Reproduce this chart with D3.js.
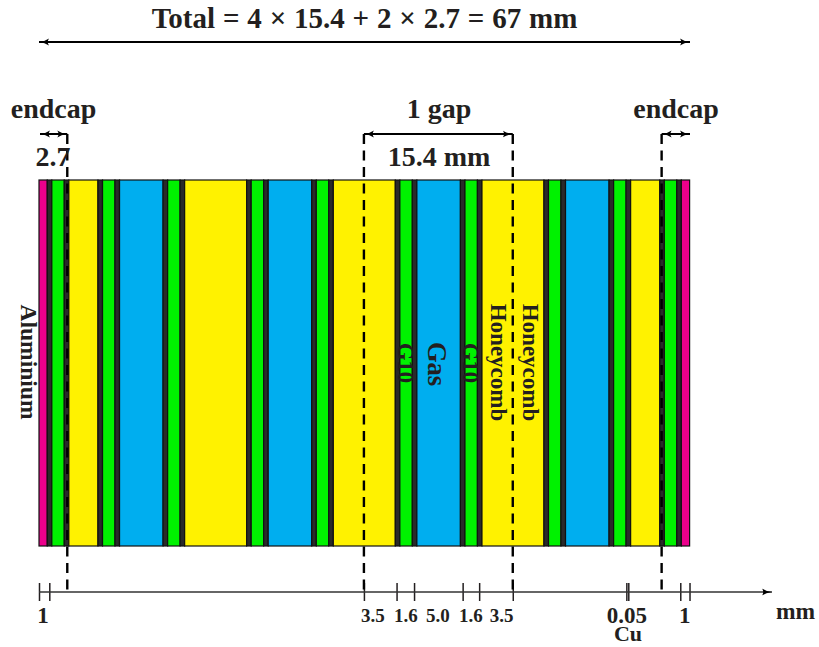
<!DOCTYPE html>
<html>
<head>
<meta charset="utf-8">
<script src="https://cdn.jsdelivr.net/npm/d3@7"></script>
<style>
  html, body { margin: 0; padding: 0; background: #fff; }
  svg { display: block; }
  text { font-family: "Liberation Serif", serif; font-weight: bold; fill: #231f20; }
</style>
</head>
<body>
<div id="chart"></div>
<script>
// layer stack, left to right, drawn thickness in mm

var layerMaterials = [
  "Al", "Cu", "G10", "Cu",
  "Honeycomb", "Cu", "G10", "Cu", "Gas", "Cu", "G10", "Cu",
  "Honeycomb", "Cu", "G10", "Cu", "Gas", "Cu", "G10", "Cu",
  "Honeycomb", "Cu", "G10", "Cu", "Gas", "Cu", "G10", "Cu",
  "Honeycomb", "Cu", "G10", "Cu", "Gas", "Cu", "G10", "Cu",
  "Honeycomb", "Cu", "G10", "Cu", "Al"
];
var layerThickness = [
  0.85, 0.47, 1.28, 0.47,
  3.0, 0.47, 1.28, 0.47, 4.48, 0.47, 1.28, 0.47,
  6.38, 0.47, 1.28, 0.47, 4.48, 0.47, 1.28, 0.47,
  6.38, 0.47, 1.28, 0.47, 4.48, 0.47, 1.28, 0.47,
  6.38, 0.47, 1.28, 0.47, 4.48, 0.47, 1.28, 0.47,
  3.0, 0.47, 1.28, 0.47, 0.85
];

var materialNames = ["Al", "Cu", "G10", "Honeycomb", "Gas"];
var materialColors = ["#ec008c", "#2a2a2a", "#00f200", "#fff200", "#00aeef"];

// positions along the bottom ruler and the dashed gap edges, in mm

var rulerTicks = [0, 1.06, 33.44, 36.8, 38.6, 43.6, 45.3, 48.76, 60.45, 60.65, 66, 66.95];
var gapEdges = [2.91, 33.44, 48.76, 64.08];
var totalThickness = 67;

// labels under the ruler: text, centre in mm

var rulerLabels = ["1", "3.5", "1.6", "5.0", "1.6", "3.5", "0.05", "1"];
var rulerLabelPos = [0.4, 34.37, 37.75, 41.05, 44.45, 47.6, 60.5, 66.45];

var width = 819,
    height = 647,
    barTop = 180,
    barBottom = 546,
    rulerY = 592,
    arrowY = 134;

var x = d3.scaleLinear()
  .domain([0, totalThickness])
  .range([39, 690]);

var color = d3.scaleOrdinal()
  .domain(materialNames)
  .range(materialColors);

var svg = d3.select("#chart").append("svg")
  .attr("width", width)
  .attr("height", height);

// arrow head

svg.append("defs").append("marker")
  .attr("id", "head")
  .attr("viewBox", "0 0 10 8")
  .attr("refX", 10)
  .attr("refY", 4)
  .attr("markerUnits", "userSpaceOnUse")
  .attr("markerWidth", 10)
  .attr("markerHeight", 8)
  .attr("orient", "auto-start-reverse")
  .append("path")
    .attr("d", "M0,0.5 Q4,3.4 10,4 Q4,4.6 0,7.5 Q2.5,4 0,0.5Z")
    .attr("fill", "#000");

// stacked layers

var layers = [], pos = 0;
layerThickness.forEach(function(t, i) {
  layers.push({ material: layerMaterials[i], start: pos, end: pos + t });
  pos += t;
});

svg.selectAll(".layer")
  .data(layers)
  .enter()
    .append("rect")
      .attr("class", "layer")
      .attr("x", function(d) { return x(d.start); })
      .attr("y", barTop)
      .attr("width", function(d) { return x(d.end) - x(d.start); })
      .attr("height", barBottom - barTop)
      .attr("fill", function(d) { return color(d.material); })
      .attr("stroke", "#111")
      .attr("stroke-width", 1.2);

// bottom ruler

var ruler = svg.append("g")
  .attr("transform", "translate(0," + rulerY + ")")
  .call(d3.axisBottom(x).tickValues(rulerTicks).tickFormat("").tickSize(9));

ruler.select(".domain").remove();
ruler.selectAll(".tick line")
  .attr("y1", -9)
  .attr("stroke", "#231f20")
  .attr("stroke-width", 1.5);

svg.append("line")
  .attr("x1", x(0))
  .attr("x2", 772)
  .attr("y1", rulerY)
  .attr("y2", rulerY)
  .attr("stroke", "#333")
  .attr("stroke-width", 1.6)
  .attr("marker-end", "url(#head)");

// dashed gap edges

svg.selectAll(".edge")
  .data(gapEdges)
  .enter()
    .append("line")
      .attr("class", "edge")
      .attr("x1", function(d) { return x(d); })
      .attr("x2", function(d) { return x(d); })
      .attr("y1", arrowY)
      .attr("y2", rulerY)
      .attr("stroke", "#000")
      .attr("stroke-width", 2.4)
      .attr("stroke-dasharray", "10,6.5");

// dimension arrows

var dimensions = [
  { from: 0, to: totalThickness, y: 42 },
  { from: 0.1, to: gapEdges[0], y: arrowY },
  { from: gapEdges[1], to: gapEdges[2], y: arrowY },
  { from: gapEdges[3], to: totalThickness, y: arrowY }
];

svg.selectAll(".dim")
  .data(dimensions)
  .enter()
    .append("line")
      .attr("class", "dim")
      .attr("x1", function(d) { return x(d.from); })
      .attr("x2", function(d) { return x(d.to); })
      .attr("y1", function(d) { return d.y; })
      .attr("y2", function(d) { return d.y; })
      .attr("stroke", "#000")
      .attr("stroke-width", 2)
      .attr("marker-start", "url(#head)")
      .attr("marker-end", "url(#head)");

// horizontal labels

function label(txt, cx, y, size) {
  return svg.append("text")
    .attr("x", cx)
    .attr("y", y)
    .attr("text-anchor", "middle")
    .style("font-size", size + "px")
    .text(txt);
}

label("Total = 4 \u00d7 15.4 + 2 \u00d7 2.7 = 67 mm", 364.5, 28, 29)
  .style("word-spacing", "0.6px");
label("endcap", 53.5, 118, 28);
label("1 gap", 439, 118, 28);
label("15.4 mm", 439, 166, 28);
label("2.7", 53, 166, 28);
label("endcap", 676, 118, 28);
label("Cu", 628, 641, 22);
label("mm", 795.5, 619, 23.5);

rulerLabels.forEach(function(d, i) {
  var big = d === "1" || d === "0.05";
  label(d, x(rulerLabelPos[i]), big ? 623 : 622, big ? 23 : 19);
});

// rotated labels

function sideLabel(txt, bx, cy, size) {
  svg.append("text")
    .attr("transform", "translate(" + bx + "," + cy + ") rotate(90)")
    .attr("text-anchor", "middle")
    .style("font-size", size + "px")
    .text(txt);
}

sideLabel("Aluminium", 21, 362, 23.5);
sideLabel("G10", 398, 363, 22.5);
sideLabel("Gas", 428, 364, 26.5);
sideLabel("G10", 463, 363, 22.5);
sideLabel("Honeycomb", 491, 362.5, 23);
sideLabel("Honeycomb", 523, 362.5, 23);
</script>
</body>
</html>
